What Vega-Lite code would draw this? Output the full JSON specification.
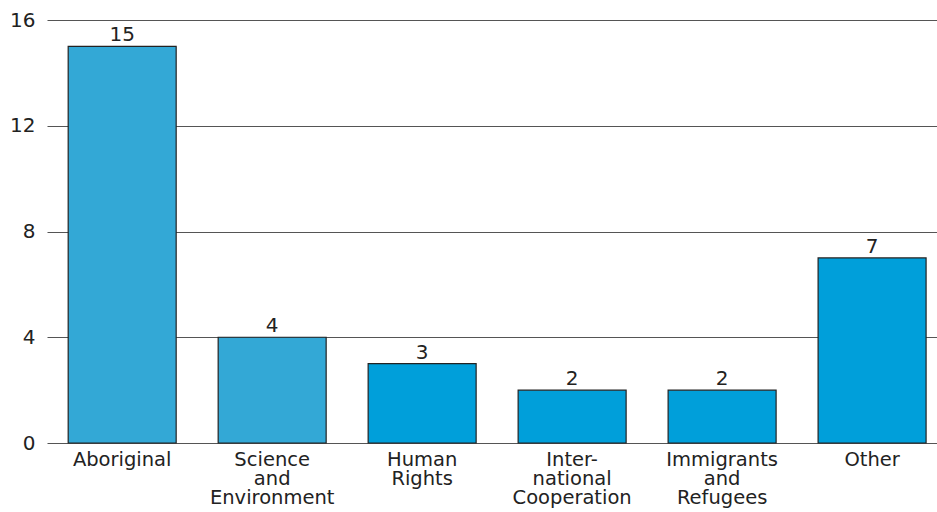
{
  "$schema": "https://vega.github.io/schema/vega-lite/v6.json",
  "width": 890,
  "height": 423,
  "autosize": {"type": "none"},
  "padding": {"left": 47, "top": 20, "right": 0, "bottom": 69},
  "background": "white",
  "config": {"view": {"stroke": null}, "font": "DejaVu Sans"},
  "data": {"values": [
    {"category": "Aboriginal", "count": 15},
    {"category": "Science and Environment", "count": 4},
    {"category": "Human Rights", "count": 3},
    {"category": "International Cooperation", "count": 2},
    {"category": "Immigrants and Refugees", "count": 2},
    {"category": "Other", "count": 7}
  ]},
  "encoding": {
    "x": {
      "field": "category", "type": "nominal", "sort": null,
      "scale": {"paddingInner": 0.28, "paddingOuter": 0.107, "align": 0.66},
      "axis": {
        "title": null, "labelAngle": 0, "domain": false, "ticks": false,
        "labelFontSize": 19.5, "labelColor": "#222", "labelPadding": 7,
        "labelLineHeight": 19, "labelBaseline": "top",
        "labelExpr": "datum.value == 'Science and Environment' ? ['Science','and','Environment'] : datum.value == 'Human Rights' ? ['Human','Rights'] : datum.value == 'International Cooperation' ? ['Inter-','national','Cooperation'] : datum.value == 'Immigrants and Refugees' ? ['Immigrants','and','Refugees'] : datum.value"
      }
    },
    "y": {
      "field": "count", "type": "quantitative",
      "scale": {"domain": [0, 16], "nice": false},
      "axis": {
        "title": null, "values": [0, 4, 8, 12, 16], "domain": false, "ticks": false,
        "grid": true, "gridColor": "#555", "gridWidth": 1.2,
        "labelFontSize": 20, "labelColor": "#222", "labelPadding": 12
      }
    }
  },
  "layer": [
    {
      "mark": {"type": "bar", "stroke": "#222", "strokeWidth": 1.2},
      "encoding": {
        "color": {
          "condition": {"test": "indexof(['Aboriginal','Science and Environment'], datum.category) >= 0", "value": "#33a8d6"},
          "value": "#009fda"
        }
      }
    },
    {
      "mark": {"type": "text", "baseline": "alphabetic", "dy": -5, "fontSize": 20, "color": "#222"},
      "encoding": {"text": {"field": "count", "type": "quantitative"}}
    }
  ]
}
